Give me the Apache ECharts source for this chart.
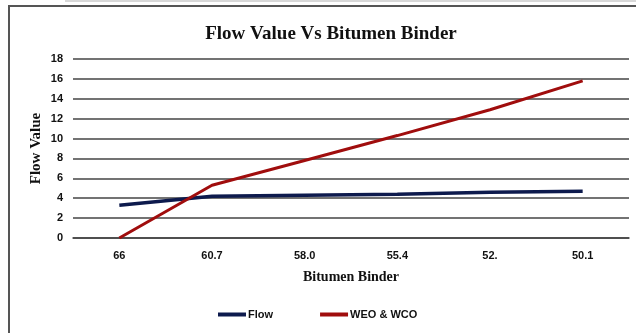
<!DOCTYPE html>
<html>
<head>
<meta charset="utf-8">
<script src="https://cdn.jsdelivr.net/npm/echarts@6/dist/echarts.min.js"></script>
<style>
  html, body { margin: 0; padding: 0; background: #fff; }
  #chart { width: 636px; height: 333px; }
</style>
</head>
<body>
<div id="chart"></div>
<script>
// Bitumen binder content (x categories) and measured values
const binderLevels = ['66', '60.7', '58.0', '55.4', '52.', '50.1'];
const flowValues = [3.3, 4.2, 4.3, 4.4, 4.6, 4.7];
const weoWcoValues = [0, 5.3, 7.8, 10.3, 12.9, 15.8];
const seriesNames = ['Flow', 'WEO & WCO'];
const yTicks = { min: 0, max: 18, interval: 2 };

const chart = echarts.init(document.getElementById('chart'));
const boldSans = { fontFamily: 'Liberation Sans', fontWeight: 'bold', color: '#111' };
const boldSerif = { fontFamily: 'Liberation Serif', fontWeight: 'bold', color: '#111' };

chart.setOption({
  animation: false,
  backgroundColor: '#fff',
  graphic: [
    { type: 'rect', shape: { x: 65, y: 0, width: 580, height: 2 }, style: { fill: '#d8d8d8' } },
    { type: 'rect', shape: { x: 9, y: 6, width: 700, height: 400 }, style: { fill: 'none', stroke: '#555', lineWidth: 2 } }
  ],
  title: {
    text: 'Flow Value Vs Bitumen Binder',
    left: 326, top: 20, textAlign: 'center',
    textStyle: Object.assign({ fontSize: 19 }, boldSerif)
  },
  legend: {
    data: seriesNames,
    bottom: 8, left: 213,
    itemGap: 47, itemWidth: 28, itemHeight: 4,
    icon: 'rect',
    textStyle: Object.assign({ fontSize: 11, padding: [0, 0, 0, -3] }, boldSans)
  },
  grid: { left: 73, right: 7, top: 59, bottom: 95 },
  xAxis: {
    type: 'category',
    data: binderLevels,
    boundaryGap: true,
    name: 'Bitumen Binder',
    nameLocation: 'middle',
    nameGap: 32,
    nameTextStyle: Object.assign({ fontSize: 14 }, boldSerif),
    axisLine: { show: true, lineStyle: { color: '#444', width: 1.5 } },
    axisTick: { show: false },
    axisLabel: Object.assign({ fontSize: 11, margin: 12 }, boldSans)
  },
  yAxis: {
    type: 'value',
    min: yTicks.min, max: yTicks.max, interval: yTicks.interval,
    name: 'Flow Value',
    nameLocation: 'middle',
    nameGap: 29,
    nameMoveOverlap: false,
    nameTextStyle: Object.assign({ fontSize: 15 }, boldSerif),
    axisLine: { show: false },
    axisTick: { show: false },
    axisLabel: Object.assign({ fontSize: 11, margin: 10 }, boldSans),
    splitLine: { show: true, lineStyle: { color: '#444', width: 1.5 } }
  },
  series: [
    {
      name: seriesNames[0], type: 'line', data: flowValues,
      symbol: 'none', color: '#0d1a4d',
      lineStyle: { width: 3.5, color: '#0d1a4d' }
    },
    {
      name: seriesNames[1], type: 'line', data: weoWcoValues,
      symbol: 'none', color: '#a00d0d',
      lineStyle: { width: 3, color: '#a00d0d' }
    }
  ]
});
</script>
</body>
</html>
